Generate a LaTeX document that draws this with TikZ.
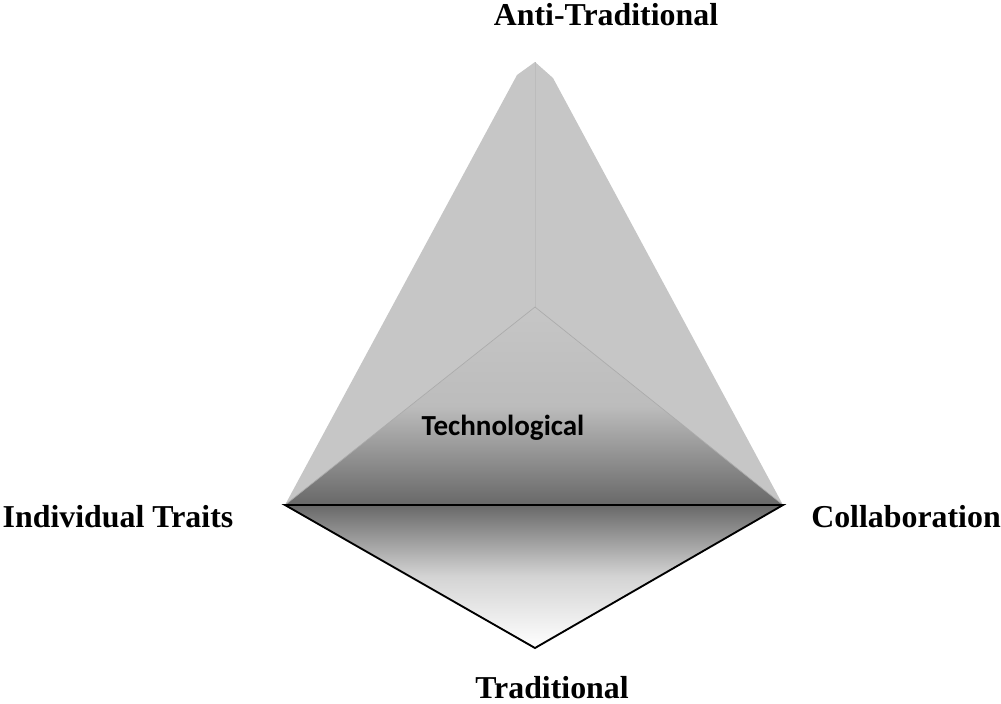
\documentclass[tikz,border=0pt]{standalone}
\usepackage{fontspec}
\setmainfont{Liberation Serif}
\newfontfamily\calfont{Carlito}
\usepackage{tikz}
\definecolor{facegray}{RGB}{198,198,198}
\definecolor{edgegray}{RGB}{170,170,170}
\definecolor{darkgray}{RGB}{104,104,104}
\definecolor{lightgray}{RGB}{212,212,212}
\tikzset{
  corner/.style={font=\bfseries\fontsize{23.9}{28}\selectfont, inner sep=0pt, anchor=base},
  facelabel/.style={font=\calfont\bfseries\fontsize{21.8}{26}\selectfont, inner sep=0pt, anchor=base}
}

\begin{document}
\begin{tikzpicture}[x={(0.75pt,0)}, y={(0,-0.75pt)}]
\useasboundingbox (0,0) rectangle (1001,704);

\coordinate (L) at (285,505);
\coordinate (R) at (783,505);
\coordinate (B) at (535,648);
\coordinate (C) at (535,307);
\coordinate (A) at (535,62);
\coordinate (AL) at (517,75);
\coordinate (AR) at (553,78);

% back faces
\fill[facegray] (L) -- (AL) -- (A) -- (C) -- cycle;
\fill[facegray] (A) -- (AR) -- (R) -- (C) -- cycle;
\draw[edgegray!35!facegray, line width=0.4pt] (A) -- (C);

% front face
\shade[top color=facegray, bottom color=darkgray, middle color=facegray!95!black] (L) -- (C) -- (R) -- cycle;
\draw[edgegray, line width=0.5pt] (L) -- (C) -- (R);

% base
\shade[top color=darkgray, bottom color=white, middle color=lightgray] (L) -- (R) -- (B) -- cycle;
\draw[black, line width=1.4pt, line join=miter] (L) -- (R) -- (B) -- cycle;

\node[facelabel] (tech) at (503,435) {Technological};

\node[corner] (anti) at (606,25) {Anti-Traditional};
\node[corner] (indiv) at (118,527) {Individual Traits};
\node[corner] (collab) at (906,527) {Collaboration};
\node[corner] (trad) at (552,698) {Traditional};

\end{tikzpicture}
\end{document}
